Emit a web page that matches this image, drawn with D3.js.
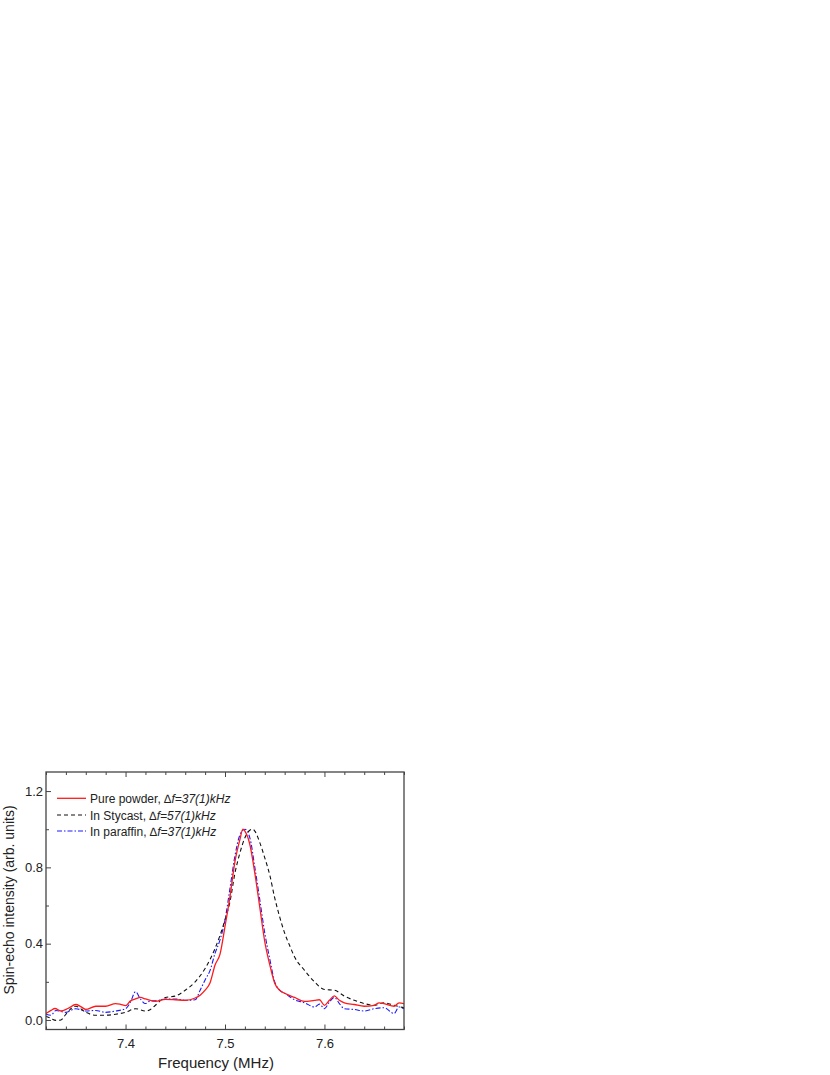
<!DOCTYPE html>
<html><head><meta charset="utf-8">
<script src="https://cdn.jsdelivr.net/npm/d3@7"></script>
<style>body{margin:0;background:#fff}svg{display:block}text{font-family:"Liberation Sans",Arial,sans-serif;fill:#222}</style>
</head><body><svg id="c" width="830" height="1075"></svg>
<script>
const pureFreq = [7.32,7.325,7.329,7.335,7.342,7.35,7.355,7.36,7.37,7.38,7.39,7.395,7.40,7.405,7.41,7.415,7.42,7.43,7.44,7.45,7.46,7.47,7.475,7.48,7.485,7.49,7.495,7.50,7.505,7.51,7.515,7.518,7.52,7.525,7.53,7.535,7.54,7.545,7.55,7.555,7.56,7.57,7.58,7.59,7.595,7.60,7.605,7.61,7.615,7.62,7.63,7.64,7.65,7.655,7.66,7.67,7.675,7.68];
const pureVal  = [0.034,0.05,0.06,0.047,0.06,0.081,0.07,0.055,0.072,0.072,0.086,0.082,0.075,0.1,0.11,0.118,0.11,0.098,0.108,0.106,0.103,0.115,0.13,0.156,0.195,0.288,0.345,0.49,0.647,0.83,0.946,1.0,0.99,0.92,0.77,0.59,0.41,0.29,0.193,0.155,0.14,0.118,0.097,0.103,0.106,0.077,0.103,0.126,0.103,0.09,0.081,0.072,0.077,0.09,0.086,0.072,0.09,0.086];

const styFreq = [7.32,7.325,7.33,7.335,7.34,7.345,7.35,7.36,7.37,7.38,7.39,7.40,7.41,7.42,7.425,7.43,7.44,7.45,7.46,7.47,7.48,7.49,7.50,7.505,7.51,7.515,7.52,7.525,7.528,7.53,7.535,7.54,7.545,7.55,7.555,7.56,7.565,7.57,7.58,7.59,7.60,7.61,7.62,7.63,7.64,7.65,7.66,7.67,7.68];
const styVal  = [0.02,0.008,-0.002,0.0,0.03,0.059,0.072,0.04,0.025,0.025,0.03,0.04,0.059,0.047,0.055,0.077,0.118,0.125,0.156,0.2,0.27,0.375,0.525,0.62,0.77,0.876,0.955,0.995,1.0,0.99,0.93,0.85,0.76,0.64,0.54,0.455,0.39,0.33,0.26,0.2,0.16,0.156,0.125,0.103,0.086,0.077,0.09,0.077,0.064];

const parFreq = [7.32,7.325,7.33,7.34,7.35,7.36,7.37,7.38,7.39,7.40,7.405,7.41,7.415,7.42,7.425,7.43,7.44,7.45,7.46,7.47,7.475,7.48,7.485,7.49,7.495,7.50,7.505,7.51,7.515,7.52,7.525,7.53,7.535,7.54,7.545,7.55,7.555,7.56,7.57,7.58,7.59,7.595,7.60,7.605,7.61,7.615,7.62,7.63,7.64,7.65,7.66,7.67,7.675,7.68];
const parVal  = [0.03,0.025,0.05,0.04,0.059,0.047,0.05,0.04,0.047,0.059,0.094,0.148,0.11,0.086,0.1,0.1,0.11,0.11,0.103,0.106,0.156,0.21,0.26,0.35,0.42,0.525,0.69,0.86,0.97,1.0,0.955,0.80,0.63,0.455,0.32,0.2,0.156,0.14,0.106,0.09,0.068,0.083,0.059,0.094,0.118,0.086,0.059,0.055,0.047,0.059,0.064,0.034,0.068,0.059];

const xTicks = [7.4,7.5,7.6];
const yTicks = [0.0,0.4,0.8,1.2];
const seriesNames = ["Pure powder, ","In Stycast, ","In paraffin, "];
const seriesNotes = ["\u2206f=37(1)kHz","\u2206f=57(1)kHz","\u2206f=37(1)kHz"];

const svg = d3.select("#c");
const L=46,R=404,T=772,B=1029.5;
const x = d3.scaleLinear().domain([7.32,7.68]).range([L,R]);
const y = d3.scaleLinear().domain([-0.05,1.3]).range([B,T]);

const defs = svg.append("defs");
defs.append("clipPath").attr("id","clip").append("rect").attr("x",L).attr("y",T).attr("width",R-L).attr("height",B-T);

const series = [
  {f:pureFreq,v:pureVal,color:"#ff1a1a",dash:null,w:1.3},
  {f:styFreq,v:styVal,color:"#111",dash:"4,3",w:1.1},
  {f:parFreq,v:parVal,color:"#1a1aff",dash:"5,2,1.5,2",w:1.1}
];
const line = d3.line().x(d=>x(d[0])).y(d=>y(d[1])).curve(d3.curveMonotoneX);
const g = svg.append("g").attr("clip-path","url(#clip)");
[2,1,0].forEach(i=>{
  const s=series[i];
  g.append("path").datum(s.f.map((f,j)=>[f,s.v[j]]))
   .attr("d",line).attr("fill","none").attr("stroke",s.color)
   .attr("stroke-width",s.w).attr("stroke-dasharray",s.dash);
});

// axes
const axColor="#444";
const xMinor = d3.range(7.32,7.6801,0.02).filter(v=>!xTicks.some(t=>Math.abs(t-v)<1e-6));
const axB = svg.append("g").attr("transform",`translate(0,${B})`)
  .call(d3.axisBottom(x).tickValues(xTicks).tickSize(-5).tickPadding(9).tickFormat(d3.format(".1f")));
const axT = svg.append("g").attr("transform",`translate(0,${T})`)
  .call(d3.axisTop(x).tickValues(xTicks).tickSize(-5).tickFormat(""));
const axBm = svg.append("g").attr("transform",`translate(0,${B})`)
  .call(d3.axisBottom(x).tickValues(xMinor).tickSize(-3).tickFormat(""));
const axTm = svg.append("g").attr("transform",`translate(0,${T})`)
  .call(d3.axisTop(x).tickValues(xMinor).tickSize(-3).tickFormat(""));
const axL = svg.append("g").attr("transform",`translate(${L},0)`)
  .call(d3.axisLeft(y).tickValues(yTicks).tickSize(-5).tickPadding(4).tickFormat(d3.format(".1f")));
const axLm = svg.append("g").attr("transform",`translate(${L},0)`)
  .call(d3.axisLeft(y).tickValues([0.2,0.6,1.0]).tickSize(-3).tickFormat(""));
[axB,axT,axBm,axTm,axL,axLm].forEach(a=>{
  a.select(".domain").remove();
  a.selectAll("line").attr("stroke",axColor).attr("stroke-width",1);
  a.selectAll("text").style("font-size","13px").style("font-family","'Liberation Sans',Arial,sans-serif").attr("fill","#222");
});
axL.selectAll("text").attr("x",-3);
svg.append("rect").attr("x",L).attr("y",T).attr("width",R-L).attr("height",B-T)
  .attr("fill","none").attr("stroke",axColor).attr("stroke-width",1.3);

// titles
svg.append("text").attr("x",216).attr("y",1068).attr("text-anchor","middle")
  .style("font-size","15px").text("Frequency (MHz)");
svg.append("text").attr("transform","translate(14,900) rotate(-90)").attr("text-anchor","middle")
  .style("font-size","14px").text("Spin-echo intensity (arb. units)");

// legend
const ly=[798.3,815,831];
series.forEach((s,i)=>{
  svg.append("line").attr("x1",57).attr("x2",86).attr("y1",ly[i]).attr("y2",ly[i])
    .attr("stroke",s.color).attr("stroke-width",s.w).attr("stroke-dasharray",s.dash);
  const t=svg.append("text").attr("x",90).attr("y",ly[i]+4.5).style("font-size","12px");
  t.append("tspan").text(seriesNames[i]);
  t.append("tspan").style("font-style","italic").text(seriesNotes[i]);
});
</script></body></html>
